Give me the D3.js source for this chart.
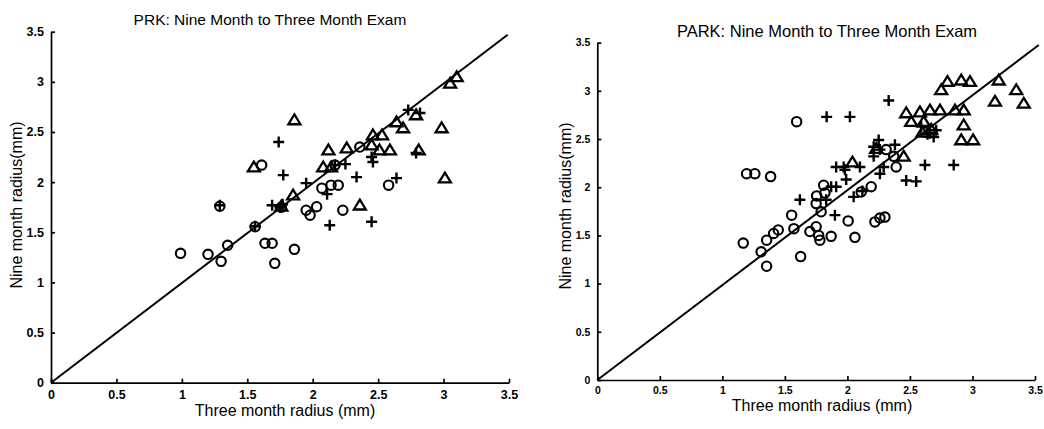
<!DOCTYPE html>
<html>
<head>
<meta charset="utf-8">
<script src="https://cdn.jsdelivr.net/npm/d3@7"></script>
<style>
  body { margin: 0; background: #fff; }
  svg { display: block; }
  text { font-family: "Liberation Sans", Arial, sans-serif; fill: #000; }
</style>
</head>
<body>
<div id="chart"></div>
<script>
// tick values + labels (same on both axes, both panels)
const tickValues = [0, 0.5, 1, 1.5, 2, 2.5, 3, 3.5];
const tickLabels = ["0", "0.5", "1", "1.5", "2", "2.5", "3", "3.5"];

// PRK panel : [three month, nine month]
const prkCircles = [
  [0.99, 1.29], [1.20, 1.28], [1.30, 1.21], [1.35, 1.37], [1.29, 1.76],
  [1.56, 1.555], [1.635, 1.39], [1.69, 1.39], [1.71, 1.19], [1.86, 1.33],
  [1.61, 2.17], [1.76, 1.75], [1.95, 1.72], [2.03, 1.755], [1.98, 1.67],
  [2.07, 1.94], [2.14, 1.97], [2.195, 1.97], [2.23, 1.72], [2.58, 1.97],
  [2.36, 2.35], [2.17, 2.17]
];
const prkPlus = [
  [1.29, 1.77], [1.74, 2.40], [1.775, 2.07], [1.69, 1.77], [1.77, 1.78],
  [1.95, 1.99], [1.56, 1.56], [2.13, 1.57], [2.45, 1.605], [2.335, 2.05],
  [2.64, 2.04], [2.11, 1.88], [2.45, 2.25], [2.46, 2.20], [2.79, 2.29],
  [2.73, 2.72], [2.82, 2.69], [2.17, 2.17], [2.25, 2.18], [1.75, 1.75]
];
const prkTriangles = [
  [1.86, 2.62], [1.55, 2.15], [1.85, 1.87], [2.08, 2.15], [2.14, 2.15],
  [2.12, 2.32], [2.26, 2.34], [2.36, 1.77], [2.46, 2.47], [2.53, 2.47],
  [2.59, 2.32], [2.51, 2.32], [2.45, 2.37], [2.64, 2.60], [2.69, 2.54],
  [2.79, 2.67], [2.985, 2.54], [2.81, 2.32], [3.01, 2.04], [3.05, 2.985],
  [3.10, 3.05], [1.76, 1.76]
];
const prkFit = [[0, 0], [3.49, 3.47]];

// PARK panel
const parkCircles = [
  [1.594, 2.68], [1.194, 2.14], [1.26, 2.14], [1.386, 2.11], [1.167, 1.42],
  [1.31, 1.33], [1.354, 1.18], [1.354, 1.45], [1.41, 1.52], [1.447, 1.556],
  [1.572, 1.57], [1.554, 1.71], [1.626, 1.28], [1.70, 1.54], [1.75, 1.59],
  [1.77, 1.50], [1.78, 1.45], [1.87, 1.49], [2.006, 1.65], [2.06, 1.48],
  [2.22, 1.64], [2.26, 1.68], [2.30, 1.69], [1.754, 1.91], [1.81, 2.02],
  [1.75, 1.83], [1.82, 1.94], [1.79, 1.745], [2.19, 2.005], [2.11, 1.95],
  [2.39, 2.21], [2.31, 2.39], [2.37, 2.32], [2.62, 2.57]
];
const parkPlus = [
  [1.834, 2.73], [2.02, 2.73], [2.33, 2.90], [1.62, 1.87], [1.90, 1.71],
  [1.91, 2.21], [1.97, 2.21], [1.98, 2.18], [1.99, 2.08], [2.05, 1.90],
  [2.12, 1.96], [1.83, 1.87], [1.87, 2.005], [1.91, 2.005], [2.10, 2.21],
  [2.21, 2.42], [2.25, 2.49], [2.26, 2.39], [2.21, 2.32], [2.29, 2.21],
  [2.26, 2.14], [2.38, 2.44], [2.62, 2.23], [2.85, 2.23], [2.47, 2.07],
  [2.55, 2.06], [2.59, 2.63], [2.66, 2.56], [2.71, 2.59], [2.69, 2.52],
  [2.64, 2.55]
];
const parkTriangles = [
  [2.80, 3.095], [2.75, 3.01], [2.91, 3.11], [2.98, 3.095], [3.21, 3.11],
  [3.35, 3.01], [3.18, 2.89], [3.41, 2.87], [2.47, 2.77], [2.58, 2.78],
  [2.66, 2.80], [2.74, 2.80], [2.86, 2.80], [2.93, 2.80], [2.51, 2.68],
  [2.61, 2.68], [2.93, 2.645], [2.91, 2.49], [3.005, 2.49], [2.45, 2.32],
  [2.23, 2.40], [2.04, 2.26], [2.60, 2.57], [2.67, 2.60]
];
const parkFit = [[0, 0], [3.53, 3.475]];

const W = 1044, H = 429;
const svg = d3.select("#chart").append("svg")
  .attr("width", W)
  .attr("height", H);

function panel(o) {
  const x = d3.scaleLinear().domain([0, 3.5]).range(o.xr);
  const y = d3.scaleLinear().domain([0, 3.5]).range(o.yr);
  const g = svg.append("g");

  const xa = d3.axisBottom(x).tickValues(tickValues)
    .tickFormat((d, i) => tickLabels[i]).tickSizeInner(-4).tickSizeOuter(0).tickPadding(o.pad);
  const ya = d3.axisLeft(y).tickValues(tickValues)
    .tickFormat((d, i) => tickLabels[i]).tickSizeInner(-4).tickSizeOuter(0).tickPadding(o.pad);

  g.append("g").attr("transform", "translate(0," + o.yr[0] + ")").call(xa);
  g.append("g").attr("transform", "translate(" + o.xr[0] + ",0)").call(ya);
  g.selectAll(".domain, .tick line").attr("stroke", "#000").attr("stroke-width", 1.7);
  g.selectAll(".tick text")
    .style("font-size", o.tickSize + "px")
    .style("font-weight", o.tickWeight)
    .attr("fill", "#000");

  // fit line
  g.append("path")
    .datum(o.fit)
    .attr("d", d3.line().x(d => x(d[0])).y(d => y(d[1])))
    .attr("fill", "none").attr("stroke", "#000").attr("stroke-width", 2);

  const mk = g.append("g").attr("fill", "none").attr("stroke", "#000").attr("stroke-width", 2.1);
  mk.selectAll(".c").data(o.circles).join("circle")
    .attr("cx", d => x(d[0])).attr("cy", d => y(d[1])).attr("r", 4.7);
  mk.selectAll(".p").data(o.plus).join("path")
    .attr("stroke-width", 2.4)
    .attr("d", d => "M" + (x(d[0]) - 5.5) + "," + y(d[1]) + "h11M" + x(d[0]) + "," + (y(d[1]) - 5.5) + "v11");
  mk.selectAll(".t").data(o.tri).join("path")
    .attr("stroke-width", 2.3)
    .attr("d", d => {
      const cx = x(d[0]), cy = y(d[1]);
      return "M" + cx + "," + (cy - 5.5) + "L" + (cx + 6) + "," + (cy + 4.3) + "L" + (cx - 6) + "," + (cy + 4.3) + "Z";
    });

  g.append("text")
    .attr("x", o.title[1]).attr("y", o.title[2])
    .attr("text-anchor", "middle").style("font-size", o.title[3] + "px")
    .text(o.title[0]);
  g.append("text")
    .attr("x", o.xlab[0]).attr("y", o.xlab[1])
    .attr("text-anchor", "middle").style("font-size", "16px")
    .text("Three month radius (mm)");
  g.append("text")
    .attr("transform", "translate(" + o.ylab[0] + "," + o.ylab[1] + ") rotate(-90)")
    .attr("text-anchor", "middle").style("font-size", "16px")
    .text("Nine month radius(mm)");
}

panel({
  xr: [51, 509], yr: [382.7, 31.7], pad: 7, tickSize: 12.5, tickWeight: "bold",
  circles: prkCircles, plus: prkPlus, tri: prkTriangles, fit: prkFit,
  title: ["PRK: Nine Month to Three Month Exam", 270, 25, 15.5],
  xlab: [285, 416], ylab: [22, 205]
});
panel({
  xr: [597.3, 1035], yr: [380, 42.6], pad: 7, tickSize: 10.5, tickWeight: "bold",
  circles: parkCircles, plus: parkPlus, tri: parkTriangles, fit: parkFit,
  title: ["PARK: Nine Month to Three Month Exam", 827, 37, 16.5],
  xlab: [822, 411], ylab: [571, 206]
});
</script>
</body>
</html>
